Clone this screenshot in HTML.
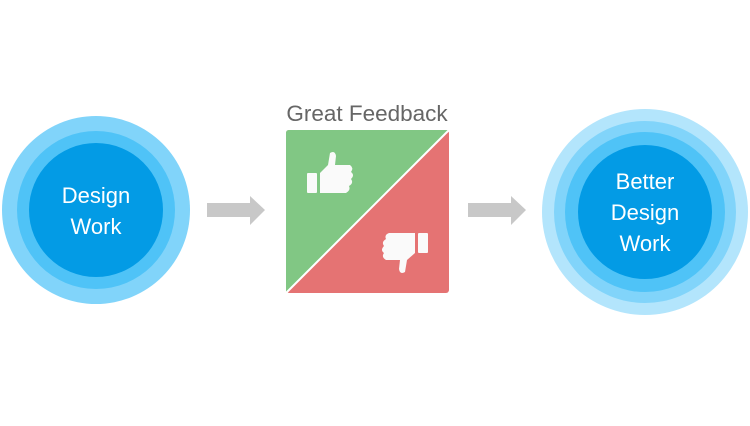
<!DOCTYPE html>
<html><head><style>body{margin:0;background:#fff}</style></head><body>
<svg width="750" height="421" viewBox="0 0 750 421" xmlns="http://www.w3.org/2000/svg" font-family="Liberation Sans, sans-serif">
<rect width="750" height="421" fill="#fff"/>
<circle cx="96" cy="210" r="94" fill="#81d4fa"/>
<circle cx="96" cy="210" r="79" fill="#4fc3f7"/>
<circle cx="96" cy="210" r="67" fill="#039be5"/>
<text x="96" y="203" fill="#fff" font-size="22" text-anchor="middle">Design</text>
<text x="96" y="234" fill="#fff" font-size="22" text-anchor="middle">Work</text>
<polygon points="207,203 250,203 250,196 265,210 250,225 250,217 207,217" fill="#c8c8c8"/>
<polygon points="468,203 511,203 511,196 526,210 511,225 511,217 468,217" fill="#c8c8c8"/>
<text x="367" y="121" fill="#666" font-size="22.5" text-anchor="middle">Great Feedback</text>
<rect x="286" y="130" width="163" height="163" rx="3" fill="#e57373"/>
<path d="M289,130 L449,130 L286,293 L286,133 Q286,130 289,130Z" fill="#81c784"/>
<line x1="449" y1="130" x2="286" y2="293" stroke="#fff" stroke-width="2"/>
<g fill="#fafafa">
<rect x="307" y="173" width="10" height="20" rx="1"/>
<path d="M320,173 L328,165 L330,153 Q335,150 336,156 L335,165 L350,165 Q354,168 351,172 Q355,175 351,179 Q354,183 349,186 Q351,190 346,193 L320,193Z"/>
<rect x="418" y="233" width="10" height="20" rx="1"/>
<path d="M415,233 L415,253 L407,260 L405,272 Q400,275 399,269 L400,260 L386,260 Q381,257 384,253 Q380,250 384,246 Q381,242 386,239 Q384,235 389,233Z"/>
</g>
<circle cx="645" cy="212" r="103" fill="#b3e5fc"/>
<circle cx="645" cy="212" r="91" fill="#81d4fa"/>
<circle cx="645" cy="212" r="80" fill="#4fc3f7"/>
<circle cx="645" cy="212" r="67" fill="#039be5"/>
<text x="645" y="189" fill="#fff" font-size="22" text-anchor="middle">Better</text>
<text x="645" y="220" fill="#fff" font-size="22" text-anchor="middle">Design</text>
<text x="645" y="251" fill="#fff" font-size="22" text-anchor="middle">Work</text>
</svg>
</body></html>
